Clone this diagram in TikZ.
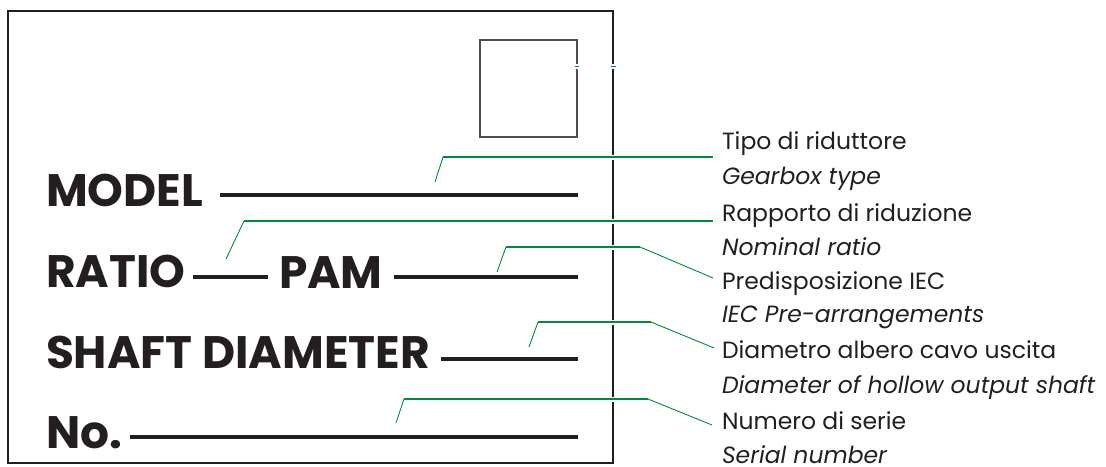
\documentclass[tikz,border=0pt]{standalone}
\usepackage{fontspec}
\setmainfont{Poppins}
\definecolor{ink}{HTML}{231F20}
\definecolor{lead}{HTML}{008A3E}
\begin{document}
\begin{tikzpicture}[x=1pt,y=-1pt,
  big/.style={font=\bfseries\fontsize{45.5}{45.5}\selectfont, text=ink, inner sep=0pt, outer sep=0pt, anchor=base west},
  lbl/.style={font=\fontsize{23.5}{23.5}\selectfont, text=ink, inner sep=0pt, outer sep=0pt, anchor=base west},
  ilbl/.style={lbl, font=\itshape\fontsize{23.5}{23.5}\selectfont},
  rulebar/.style={ink, line width=3.5pt},
  leader/.style={lead, line width=1.6pt},
  slant/.style={lead, line width=0.9pt},
  gap/.style={white, line width=5pt}]
\useasboundingbox (0,0) rectangle (1106,466);
% frame and small box
\draw[ink, line width=2pt] (8,11) rectangle (613,463);
\draw[ink!80, line width=1.3pt] (480,40) rectangle (577,137);
% tiny green ticks
\draw[gap] (577,64) -- (577,69);
\draw[gap] (613,64) -- (613,69);
\draw[leader] (574.5,66.5) -- (578.5,66.5);
\draw[leader] (610.5,66.5) -- (615.5,66.5);
% bold labels
\node[big] (model) at (46,206) {MODEL};
\node[big] (ratio) at (46,287) {RATIO};
\node[big] (pam) at (279,288) {PAM};
\node[big] (shaft) at (46,368) {SHAFT DIAMETER};
\node[big] (no) at (46,448) {No.};
% rules
\coordinate (m1) at (220,195); \coordinate (m2) at (578,195);
\coordinate (r1) at (193,277); \coordinate (r2) at (268,277);
\coordinate (p1) at (394,277); \coordinate (p2) at (578,277);
\coordinate (s1) at (441,359); \coordinate (s2) at (578,359);
\coordinate (n1) at (130,437); \coordinate (n2) at (578,437);
\draw[rulebar] (m1) -- (m2);
\draw[rulebar] (r1) -- (r2);
\draw[rulebar] (p1) -- (p2);
\draw[rulebar] (s1) -- (s2);
\draw[rulebar] (n1) -- (n2);
% right labels
\node[lbl] (t1) at (722,149) {Tipo di riduttore};
\node[ilbl] (t1e) at (722,184) {Gearbox type};
\node[lbl] (t2) at (722,221) {Rapporto di riduzione};
\node[ilbl] (t2e) at (722,255) {Nominal ratio};
\node[lbl] (t3) at (722,289) {Predisposizione IEC};
\node[ilbl] (t3e) at (722,322) {IEC Pre-arrangements};
\node[lbl] (t4) at (722,358) {Diametro albero cavo uscita};
\node[ilbl] (t4e) at (722,393) {Diameter of hollow output shaft};
\node[lbl] (t5) at (722,429) {Numero di serie};
\node[ilbl] (t5e) at (722,463) {Serial number};
% leader coordinates
\coordinate (a0) at (435,182); \coordinate (a1) at (443,157); \coordinate (a2) at (713,157);
\coordinate (b0) at (226,259); \coordinate (b1) at (244,221); \coordinate (b2) at (713,221);
\coordinate (c0) at (497,272); \coordinate (c1) at (506,247); \coordinate (c2) at (640,247); \coordinate (c3) at (713,278);
\coordinate (d0) at (529,347); \coordinate (d1) at (538,322); \coordinate (d2) at (651,322); \coordinate (d3) at (714,348);
\coordinate (e0) at (396,423); \coordinate (e1) at (404,399); \coordinate (e2) at (648,399); \coordinate (e3) at (712,425);
% gaps in frame
\foreach \yy in {157,221,247,322,399} \draw[gap] (613,\yy-2.5) -- (613,\yy+2.5);
% leaders
\draw[slant] (a0) -- (a1); \draw[leader] (a1) -- (a2);
\draw[slant] (b0) -- (b1); \draw[leader] (b1) -- (b2);
\draw[slant] (c0) -- (c1); \draw[leader] (c1) -- (c2); \draw[slant] (c2) -- (c3);
\draw[slant] (d0) -- (d1); \draw[leader] (d1) -- (d2); \draw[slant] (d2) -- (d3);
\draw[slant] (e0) -- (e1); \draw[leader] (e1) -- (e2); \draw[slant] (e2) -- (e3);
\end{tikzpicture}
\end{document}
